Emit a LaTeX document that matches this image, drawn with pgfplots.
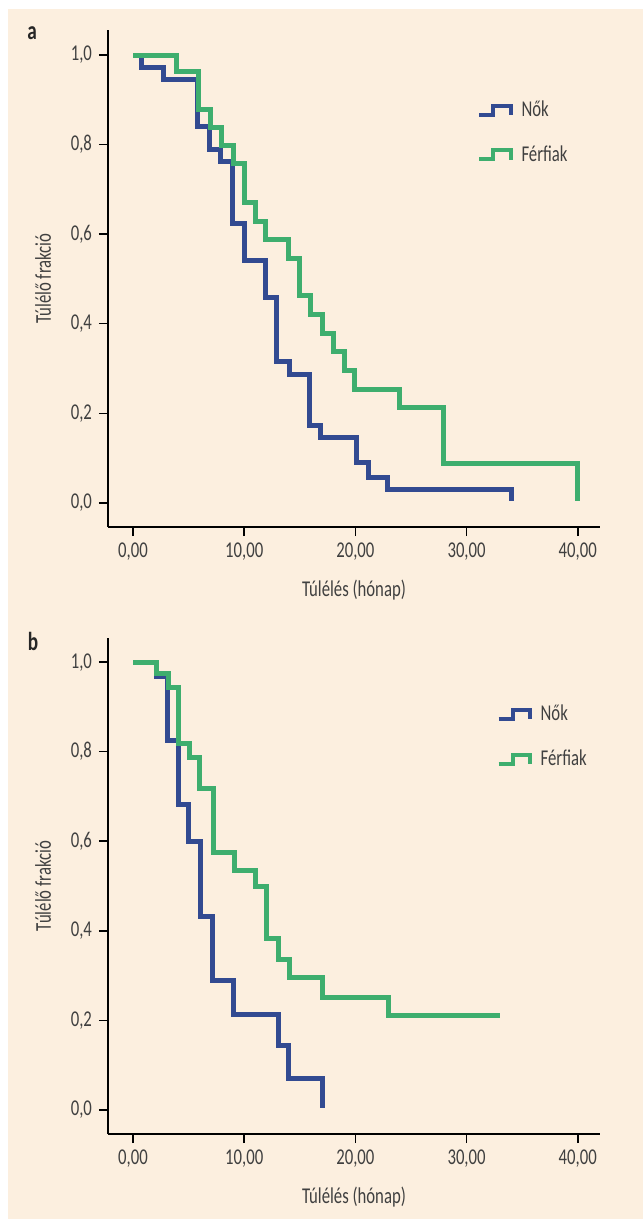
\documentclass[border=0pt]{standalone}
\usepackage{fontspec}
\setmainfont{Carlito}[FakeStretch=0.74]
\usepackage{pgfplots}
\pgfplotsset{compat=1.18}
\definecolor{bg}{RGB}{252,239,223}
\definecolor{kmblue}{RGB}{50,74,145}
\definecolor{kmgreen}{RGB}{62,174,110}
\definecolor{txt}{RGB}{64,64,64}

\pgfplotsset{
 kmstyle/.style={
  scale only axis, width=246pt, height=248.5pt,
  xmin=-2.25, xmax=42, ymin=-0.054, ymax=1.056,
  axis x line*=bottom, axis y line*=left,
  axis line style={line width=1pt, black, -},
  xtick={0,10,20,30,40},
  xticklabels={{0,00},{10,00},{20,00},{30,00},{40,00}},
  ytick={0,0.2,0.4,0.6,0.8,1},
  yticklabels={{0,0},{0,2},{0,4},{0,6},{0,8},{1,0}},
  tick align=outside, major tick length=4.5pt,
  tick style={line width=0.75pt, black},
  ticklabel style={font=\fontsize{11.3}{13}\selectfont, text=txt},
  label style={font=\fontsize{11.3}{13}\selectfont, text=txt},
  xlabel={Túlélés (hónap)}, ylabel={Túlélő frakció},
  xlabel style={at={(axis description cs:0.5,-0.127)},anchor=center},
  ylabel style={at={(axis description cs:-0.132,0.5)},anchor=center},
  legend image code/.code={\draw[#1,line width=2pt] (0pt,-2.25pt) -- (7pt,-2.25pt) -- (7pt,2.25pt) -- (15.5pt,2.25pt) -- (15.5pt,-2.5pt);},
  legend cell align=left,
  legend style={draw=none, fill=none, font=\fontsize{11.3}{13}\selectfont, text=txt, row sep=9pt, column sep=2.5pt},
  clip=false
 }
}

\begin{document}
\begin{tikzpicture}[x=1pt,y=1pt]
\useasboundingbox (0,0) rectangle (321.5,-609.5);
\fill[white] (0,0) rectangle (321.5,-609.5);
\fill[bg] (4,-4.5) rectangle (321.5,-609.5);
\node[font=\bfseries\fontsize{13}{14}\selectfont, text=black!85] at (16,-16.5) {a};
\node[font=\bfseries\fontsize{13}{14}\selectfont, text=black!85] at (16.5,-320.5) {b};

\begin{axis}[kmstyle, at={(54pt,-263.5pt)}, anchor=south west,
  legend style={at={(axis description cs:0.738,0.794)},anchor=west}]
\addplot[const plot, kmblue, line width=2.5pt] coordinates {
(0,1) (0.8,0.972) (2.7,0.945) (5.8,0.84) (6.9,0.79) (7.9,0.762) (8.95,0.624)
(10.0,0.542) (11.9,0.458) (12.9,0.315) (14.1,0.287) (15.9,0.173) (16.9,0.145)
(20.1,0.09) (21.2,0.057) (22.9,0.03) (34.0,0.03) (34.0,0.005)};
\addlegendentry{Nők}
\addplot[const plot, kmgreen, line width=2.5pt] coordinates {
(0,1) (3.9,0.964) (5.9,0.879) (7.0,0.839) (8.0,0.797) (9.0,0.758) (10.0,0.671)
(11.0,0.629) (11.95,0.587) (14.0,0.546) (15.0,0.464) (16.0,0.421) (17.0,0.379)
(18.0,0.338) (19.0,0.295) (19.9,0.254) (24.0,0.212) (27.95,0.087) (40.0,0.087) (40.0,0.005)};
\addlegendentry{Férfiak}
\end{axis}

\begin{axis}[kmstyle, height=248pt, ymax=1.054, at={(54pt,-567pt)}, anchor=south west,
  legend style={at={(axis description cs:0.777,0.801)},anchor=west}]
\addplot[const plot, kmblue, line width=2.5pt] coordinates {
(0,1) (2.1,0.967) (3.1,0.826) (4.1,0.683) (5.0,0.6) (6.05,0.431) (7.15,0.289)
(9.0,0.214) (13.1,0.143) (14.0,0.071) (17.0,0.071) (17.0,0.004)};
\addlegendentry{Nők}
\addplot[const plot, kmgreen, line width=2.5pt] coordinates {
(0,1) (2.1,0.975) (3.15,0.943) (4.1,0.818) (5.05,0.786) (6.0,0.717) (7.2,0.575)
(9.15,0.534) (11.05,0.498) (12.05,0.383) (13.05,0.336) (14.1,0.295) (17.05,0.251)
(23.0,0.210) (33.0,0.210)};
\addlegendentry{Férfiak}
\end{axis}
\end{tikzpicture}
\end{document}
